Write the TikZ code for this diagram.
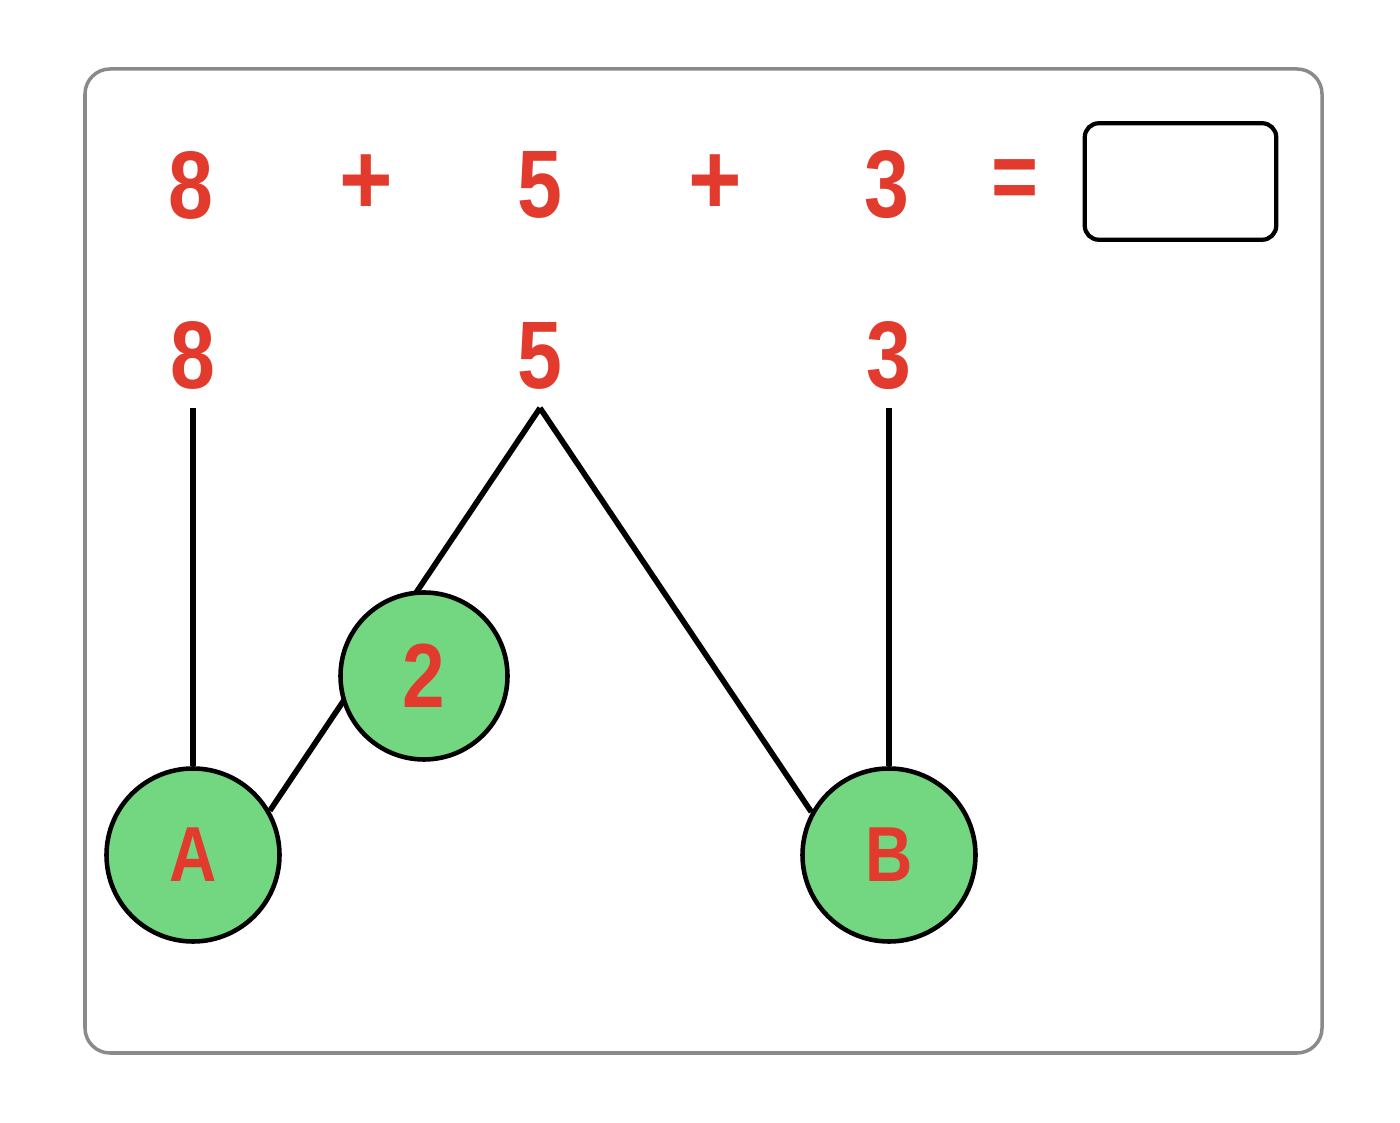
\documentclass[tikz,border=0pt]{standalone}
\usepackage{fontspec}
\setmainfont{Liberation Sans}
\definecolor{numred}{HTML}{E23A2D}
\definecolor{nodegreen}{HTML}{73D680}
\definecolor{framegray}{HTML}{8A8A8A}
\newcommand\narrowtxt[1]{\scalebox{0.84}[1]{#1}}
\pgfdeclarelayer{background}
\pgfsetlayers{background,main}
\begin{document}
\begin{tikzpicture}[
  bignum/.style={text=numred, font=\fontsize{27.3}{30}\selectfont\bfseries, inner sep=0pt},
  plussign/.style={text=numred, font=\fontsize{29}{32}\selectfont\bfseries, inner sep=0pt},
  lownum/.style={bignum, text depth=0pt, inner xsep=0pt, inner ysep=0.19cm, anchor=south},
  ball/.style={circle, draw=black, line width=1.3pt, fill=nodegreen, text=numred, inner sep=0pt},
  conn/.style={draw=black, line width=1.6pt},
  answerbox/.style={draw=black, line width=1.2pt, rounded corners=0.14cm, minimum width=1.915cm, minimum height=1.165cm, inner sep=0pt}
]
\useasboundingbox (0,0) rectangle (14,11.23);
\begin{pgfonlayer}{background}
\fill[white] (0,0) rectangle (14,11.23);
\end{pgfonlayer}
\draw[framegray, line width=1pt, rounded corners=0.25cm] (0.85,0.70) rectangle (13.22,10.54);

% top equation row
\node[bignum] (t8)  at (1.91,9.38) {\narrowtxt{8}};
\node[plussign] (tp1) at (3.66,9.38) {\scalebox{0.9}[1]{+}};
\node[bignum] (t5)  at (5.40,9.38) {\narrowtxt{5}};
\node[plussign] (tp2) at (7.15,9.38) {\scalebox{0.9}[1]{+}};
\node[bignum] (t3)  at (8.87,9.38) {\narrowtxt{3}};
\node[bignum] (teq) at (10.15,9.38) {\narrowtxt{=}};
\node[answerbox] (ans) at (11.805,9.415) {};

% second row
\node[lownum] (b8) at (1.93,7.15) {\narrowtxt{8}};
\node[lownum] (b5) at (5.40,7.15) {\narrowtxt{5}};
\node[lownum] (b3) at (8.89,7.15) {\narrowtxt{3}};

% circles
\node[ball, minimum size=1.73cm, font=\fontsize{22.2}{24}\selectfont\bfseries] (A) at (1.93,2.68) {\narrowtxt{A}};
\node[ball, minimum size=1.67cm, font=\fontsize{25.9}{28}\selectfont\bfseries] (two) at (4.24,4.47) {\narrowtxt{2}};
\node[ball, minimum size=1.73cm, font=\fontsize{22.2}{24}\selectfont\bfseries] (B) at (8.89,2.68) {\narrowtxt{B}};

\begin{pgfonlayer}{background}
\draw[conn] (b8.south) -- (A.north);
\draw[conn] (b5.south) -- (A.30);
\draw[conn] (b5.south) -- (B.151);
\draw[conn] (b3.south) -- (B.north);
\end{pgfonlayer}
\end{tikzpicture}
\end{document}
